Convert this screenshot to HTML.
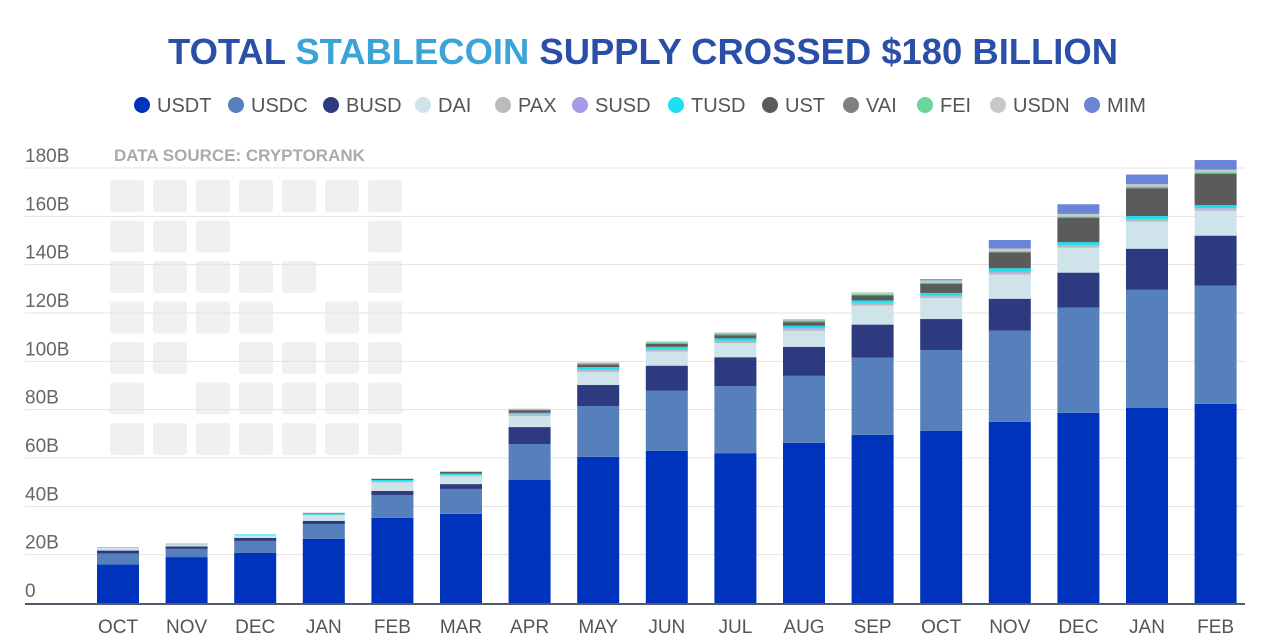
<!DOCTYPE html>
<html><head><meta charset="utf-8"><style>
body{margin:0;background:#fff;font-family:"Liberation Sans",sans-serif}
svg{display:block}
</style></head><body>
<svg id="chart" width="1280" height="642" viewBox="0 0 1280 642" xmlns="http://www.w3.org/2000/svg">
<text x="643" y="64" text-anchor="middle" font-size="36" font-weight="bold" fill="#2a4fa8" font-family="Liberation Sans, sans-serif" textLength="950" lengthAdjust="spacingAndGlyphs">TOTAL <tspan fill="#3aa3d8">STABLECOIN</tspan> SUPPLY CROSSED $180 BILLION</text>
<g id="watermark"></g>
<text x="114" y="161" font-size="17" font-weight="bold" fill="#aaa">DATA SOURCE: CRYPTORANK</text>
<g id="grid"></g><g id="bars"></g><g id="axes"></g><g id="legend"></g>
</svg>
<script>
const categories=["OCT","NOV","DEC","JAN","FEB","MAR","APR","MAY","JUN","JUL","AUG","SEP","OCT","NOV","DEC","JAN","FEB"];
const seriesNames=["USDT","USDC","BUSD","DAI","PAX","SUSD","TUSD","UST","VAI","FEI","USDN","MIM"];
const seriesColors=["#0033bb","#5580bb","#2d3a80","#cfe3ea","#bbbbbb","#a99ae8","#1ce0ee","#5b5b5b","#808080","#6ad49a","#c8c8c8","#6a85d8"];
const USDT=[16,19,20.7,26.5,35.2,36.9,50.9,60.5,63,62,66.3,69.6,71.2,75,78.7,80.7,82.4];
const USDC=[4.5,3.4,5,6.2,9.5,10.3,14.9,21,24.8,27.7,27.7,31.9,33.5,37.7,43.5,48.9,48.9];
const BUSD=[1.2,1,1.2,1.3,1.7,2,7,8.7,10.4,12,12,13.7,12.8,13.2,14.5,17,20.7];
const DAI=[1,0.8,1,2.3,3.5,3.2,4.5,5.4,5.8,5.8,6.6,7.9,8.7,10,10.3,11.2,10.3];
const PAX=[0.2,0.2,0.2,0.3,0.4,0.5,0.6,0.7,0.7,0.7,0.8,0.8,0.8,0.8,0.8,0.8,0.8];
const SUSD=[0,0,0,0,0.1,0.1,0.2,0.3,0.3,0.3,0.3,0.3,0.3,0.3,0.3,0.3,0.3];
const TUSD=[0.2,0.2,0.3,0.5,0.5,0.5,0.6,1,1,1,1,1,1,1.5,1.2,1.2,1.2];
const UST=[0,0,0,0.2,0.5,0.8,1,1,1.2,1.3,1.5,2,3.7,6.5,10,11.5,13];
const VAI=[0,0,0,0,0,0.1,0.2,0.3,0.3,0.3,0.3,0.3,0.3,0.3,0.3,0.3,0.3];
const FEI=[0,0,0,0,0,0,0.3,0.4,0.4,0.4,0.4,0.4,0.4,0.4,0.4,0.4,0.4];
const USDN=[0,0,0,0,0,0,0.2,0.3,0.4,0.5,0.6,0.7,0.8,1,1,1,1];
const MIM=[0,0,0,0,0,0,0,0,0,0,0,0,0.5,3.5,4,4,4];
const seriesValues=[USDT,USDC,BUSD,DAI,PAX,SUSD,TUSD,UST,VAI,FEI,USDN,MIM];
const yTicks=[0,20,40,60,80,100,120,140,160,180];
const yTickLabels=["0","20B","40B","60B","80B","100B","120B","140B","160B","180B"];
const NS="http://www.w3.org/2000/svg";
const y0=603,yTop=168,vMax=180,xStart=118,xStep=68.6,barW=42;
const yScale=v=>y0-(v/vMax)*(y0-yTop);
const xScale=i=>xStart+i*xStep;
function mk(tag,attrs,parent,text){const e=document.createElementNS(NS,tag);for(const k in attrs)e.setAttribute(k,attrs[k]);if(text!==undefined)e.textContent=text;parent.appendChild(e);return e;}
const wm=document.getElementById('watermark');
for(let r=0;r<7;r++)for(let c=0;c<7;c++){
 const inner=(r>=1&&r<=5&&c>=1&&c<=5);
 if(inner&&((r===1&&c>=3&&c<=5)||(r===2&&c===5)||(r===3&&c===4)||(r===4&&c===2)||(r===5&&c===1))) continue;
 mk('rect',{x:110+c*43,y:180+r*40.5,width:34,height:32,rx:3,fill:'#eef0f2'},wm);
}
const g=document.getElementById('grid');
yTicks.forEach((t,i)=>{
 if(t>0){const l=mk('line',{x1:25,x2:1245,y1:yScale(t),y2:yScale(t),stroke:'#e3e3e3','stroke-width':1},g);
 
 }
 const tx=mk('text',{x:25,y:yScale(t)-6,'font-size':19,fill:'#666'},g,yTickLabels[i]);
 
 
});
const b=document.getElementById('bars');
categories.forEach((cat,i)=>{
 let acc=0;
 seriesValues.forEach((arr,s)=>{
  const v=arr[i];if(!v)return;
  const yt=yScale(acc+v),yb=yScale(acc);
  const r=mk('rect',{x:xScale(i)-barW/2,y:yt,width:barW,height:Math.max(0,yb-yt),fill:seriesColors[s]},b);
  
  
  acc+=v;
 });
 const t=mk('text',{x:xScale(i),y:633,'text-anchor':'middle','font-size':19,fill:'#555'},b,cat);
 
 
});
const ax=document.getElementById('axes');
const base=mk('line',{x1:25,x2:1245,y1:y0+1,y2:y0+1,stroke:'#555a6a','stroke-width':2},ax);


const lg=document.getElementById('legend');
const legendX=[142,236,331,423,503,580,676,770,851,925,998,1092];
seriesNames.forEach((n,s)=>{
 const gg=mk('g',{},lg);
 
 
 mk('circle',{cx:legendX[s],cy:105,r:8,fill:seriesColors[s]},gg);
 mk('text',{x:legendX[s]+15,y:112,'font-size':20,fill:'#555'},gg,n);
});
</script>
</body></html>
